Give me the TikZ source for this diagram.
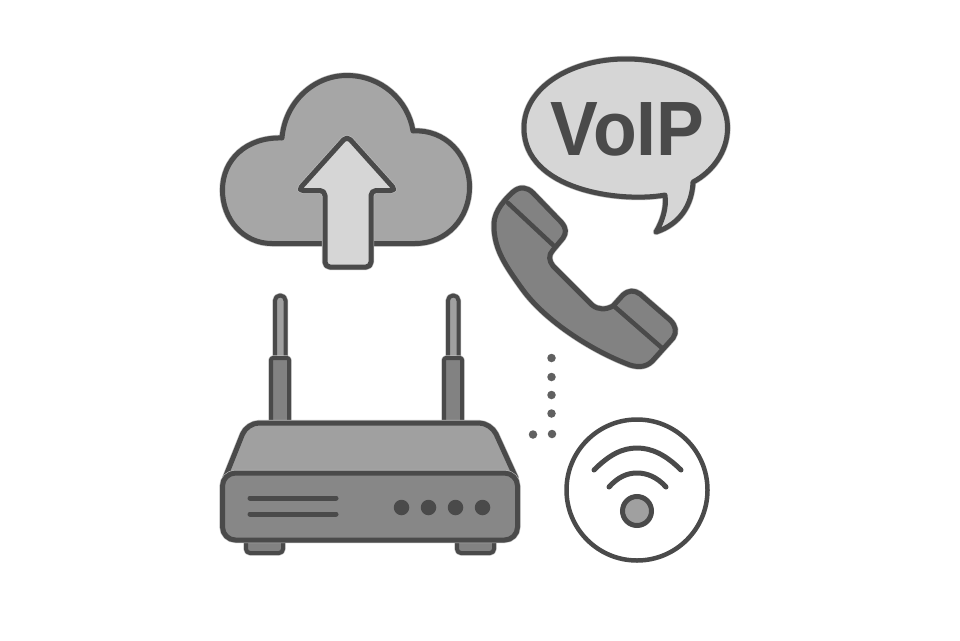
\documentclass[tikz,border=0pt]{standalone}
\usepackage{fontspec}
\setsansfont{Liberation Sans}
\definecolor{ink}{HTML}{4A4A4A}
\definecolor{rim}{HTML}{BEBEBE}
\definecolor{cloudfill}{HTML}{A6A6A6}
\definecolor{pale}{HTML}{D6D6D6}
\definecolor{phonefill}{HTML}{828282}
\definecolor{routertop}{HTML}{A0A0A0}
\definecolor{routerfront}{HTML}{878787}
\definecolor{dotgrey}{HTML}{606060}
\tikzset{
  iconshape/.style={line join=round,line cap=round,draw=ink,line width=5pt,
    preaction={draw=rim,line width=6.2pt,line join=round,line cap=round}},
  slimshape/.style={line join=round,line cap=round,draw=ink,line width=4pt,
    preaction={draw=rim,line width=5.2pt,line join=round,line cap=round}},
  plainline/.style={draw=ink,line width=4.5pt,line join=round,line cap=round},
  guide/.style={circle,fill=dotgrey,inner sep=0pt,minimum size=8.5pt},
  led/.style={circle,fill=ink,inner sep=0pt,minimum size=15.5pt},
}
\begin{document}
\begin{tikzpicture}[x=1pt,y=-1pt]
\useasboundingbox (0,0) rectangle (960,640);
\fill[white] (0,0) rectangle (960,640);

% cloud
\path[iconshape,fill=cloudfill] (272,243.5) .. controls (243,243.5) and (222.5,219) .. (222.5,190)
  .. controls (222.5,160) and (246,137) .. (282,138)
  .. controls (285,103) and (313,75.5) .. (347,75.5)
  .. controls (381,75.5) and (408,100) .. (413,131)
  .. controls (445,129) and (469.5,155) .. (469.5,187)
  .. controls (469.5,218) and (447,243.5) .. (415,243.5) -- cycle;
% upload arrow
\path[iconshape,fill=pale,rounded corners=5pt] (347,136) -- (396,190.5) -- (371,190.5) -- (371,267) -- (325,267) -- (325,190.5) -- (298,190.5) -- cycle;

% speech bubble
\path[iconshape,fill=pale] (665,195) .. controls (620,203) and (524,190) .. (524,128)
  .. controls (524,88) and (570,59) .. (626,59)
  .. controls (682,59) and (727.5,88) .. (727.5,128)
  .. controls (727.5,152) and (712,172) .. (693,182)
  .. controls (692,205) and (680,224) .. (656,232)
  .. controls (662,222) and (667,208) .. (665,195) -- cycle;
\node[font=\sffamily\bfseries,text=ink,inner sep=0pt,xscale=.93,anchor=center] (voip) at (627.5,129.5)
  {\fontsize{77}{77}\selectfont VoIP};

% phone handset
\path[iconshape,fill=phonefill] (513,192) .. controls (520,186) and (527,187) .. (533,193)
  -- (561,222) .. controls (567,229) and (566,233) .. (563,238)
  -- (553,250) .. controls (548,255) and (549,261) .. (553,266)
  -- (592,305) .. controls (598,310) and (606,310) .. (613,306)
  -- (623,295) .. controls (629,290) and (634,290) .. (640,294)
  -- (670,320) .. controls (676,326) and (677,332) .. (673,338)
  -- (655,358) .. controls (648,367) and (640,368) .. (630,365)
  .. controls (590,350) and (545,320) .. (523,290)
  .. controls (505,265) and (495,250) .. (494,228)
  .. controls (493,215) and (500,204) .. (513,192) -- cycle;
\draw[plainline] (508,203) -- (553,245);
\draw[plainline] (615,307) -- (662,348);

% router antennas
\path[slimshape,fill=routertop,rounded corners=5pt] (275,360) -- (275,295.5) -- (285.5,295.5) -- (285.5,360);
\path[slimshape,fill=routertop,rounded corners=5pt] (448,360) -- (448,295.5) -- (458.5,295.5) -- (458.5,360);
\path[slimshape,fill=phonefill,rounded corners=2pt] (271,424) -- (271,358) -- (289,358) -- (289,424);
\path[slimshape,fill=phonefill,rounded corners=2pt] (444,424) -- (444,358) -- (462,358) -- (462,424);
% router feet
\path[slimshape,fill=phonefill,rounded corners=4pt] (246,535) -- (246,553) -- (283,553) -- (283,535);
\path[slimshape,fill=phonefill,rounded corners=4pt] (457,535) -- (457,553) -- (494,553) -- (494,535);
% router top
\path[iconshape,fill=routertop] (225,478) [rounded corners=12pt] -- (247,423) -- (491,423) [sharp corners] -- (516,478) -- cycle;
% router front
\path[iconshape,fill=routerfront,rounded corners=13pt] (222.5,473) rectangle (517.5,540);
\draw[ink,line width=5pt,line cap=round] (250,498) -- (336,498);
\draw[ink,line width=5pt,line cap=round] (250,514) -- (336,514);
\node[led] (l1) at (401.5,507.5) {};
\node[led] (l2) at (428.5,507.5) {};
\node[led] (l3) at (455.5,507.5) {};
\node[led] (l4) at (482.5,507.5) {};

% dots
\node[guide] (d1) at (551.5,358) {};
\node[guide] (d2) at (551.5,377) {};
\node[guide] (d3) at (551.5,395) {};
\node[guide] (d4) at (551.5,413.5) {};
\node[guide] (d5) at (552,434) {};
\node[guide] (d6) at (533,434.5) {};

% wifi badge
\draw[plainline] (637,490) circle (70.5);
\draw[plainline,line width=5pt] (594,470) .. controls (609,455) and (622,448) .. (637,448) .. controls (652,448) and (666,455) .. (681,470);
\draw[plainline,line width=5pt] (609,487) .. controls (618,477) and (627,473) .. (637,473) .. controls (647,473) and (657,477) .. (666,487);
\draw[draw=ink,line width=5pt,fill=routertop] (637,511) circle (14.5);
\end{tikzpicture}
\end{document}
